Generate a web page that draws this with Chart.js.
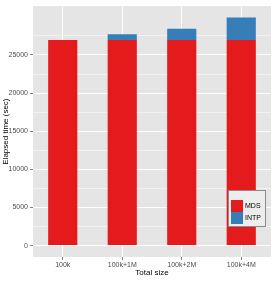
<!DOCTYPE html>
<html>
<head>
<meta charset="utf-8">
<script src="https://cdn.jsdelivr.net/npm/chart.js@4"></script>
<style>html,body{margin:0;padding:0;background:#fff}</style>
</head>
<body>
<div style="width:274px;height:281px"><canvas id="chart"></canvas></div>
<script>
const sizes = ['100k', '100k+1M', '100k+2M', '100k+4M'];
const mds = [26950, 26950, 26950, 26950];
const intp = [0, 780, 1475, 2950];
const yMajor = [0, 5000, 10000, 15000, 20000, 25000];
const yMinor = [2500, 7500, 12500, 17500, 22500, 27500];

const red = '#E41A1C';
const blue = '#377EB8';
const font = 'Liberation Sans, Arial, sans-serif';

// grey ggplot panel behind the bars
const panelBg = {
  id: 'panelBg',
  beforeDraw(chart) {
    const {ctx, chartArea: a} = chart;
    ctx.save();
    ctx.fillStyle = '#E5E5E5';
    ctx.fillRect(a.left, a.top, a.right - a.left, a.bottom - a.top);
    ctx.restore();
  }
};

// legend box inside the panel, lower right
const insideLegend = {
  id: 'insideLegend',
  afterDraw(chart) {
    const ctx = chart.ctx;
    const x = 228, y = 190, w = 38, h = 37;
    ctx.save();
    ctx.fillStyle = '#EDEDED';
    ctx.strokeStyle = '#8C8C8C';
    ctx.lineWidth = 1;
    ctx.fillRect(x, y, w, h);
    ctx.strokeRect(x + 0.5, y + 0.5, w - 1, h - 1);
    chart.data.datasets.forEach((ds, i) => {
      const ky = y + 10 + i * 12;
      ctx.fillStyle = ds.backgroundColor;
      ctx.fillRect(x + 3, ky, 12, 12);
      ctx.fillStyle = '#000';
      ctx.font = '7px ' + font;
      ctx.textBaseline = 'middle';
      ctx.fillText(ds.label, x + 17, ky + 6.5);
    });
    ctx.restore();
  }
};

new Chart(document.getElementById('chart'), {
  type: 'bar',
  data: {
    labels: sizes,
    datasets: [
      {label: 'MDS', data: mds, backgroundColor: red, borderWidth: 0},
      {label: 'INTP', data: intp, backgroundColor: blue, borderWidth: 0}
    ]
  },
  options: {
    responsive: true,
    maintainAspectRatio: false,
    animation: false,
    layout: {padding: {left: 0, right: 3, top: 4, bottom: 0}},
    barPercentage: 0.49,
    categoryPercentage: 1,
    plugins: {legend: {display: false}, tooltip: {enabled: false}},
    scales: {
      x: {
        stacked: true,
        offset: true,
        border: {display: false},
        grid: {offset: false, color: '#fff', lineWidth: 1, tickLength: 3, tickColor: '#7F7F7F'},
        ticks: {color: '#4D4D4D', font: {family: font, size: 7}, padding: 1, maxRotation: 0},
        title: {display: true, text: 'Total size', color: '#000', font: {family: font, size: 8}, padding: {top: 0, bottom: 3}},
        afterFit(scale) { scale.height = 24; }
      },
      y: {
        stacked: true,
        min: -1495,
        max: 31395,
        border: {display: false},
        afterBuildTicks(scale) {
          scale.ticks = yMajor.concat(yMinor).sort((a, b) => a - b).map(v => ({value: v}));
        },
        grid: {
          lineWidth: 1,
          tickLength: 3,
          color: c => yMajor.includes(c.tick.value) ? '#fff' : '#F2F2F2',
          tickColor: c => yMajor.includes(c.tick.value) ? '#7F7F7F' : 'rgba(0,0,0,0)'
        },
        ticks: {
          color: '#4D4D4D',
          font: {family: font, size: 7},
          padding: 2,
          callback: v => yMajor.includes(v) ? String(v) : ''
        },
        title: {display: true, text: 'Elapsed time (sec)', color: '#000', font: {family: font, size: 8}, padding: {top: 1, bottom: 0}},
        afterFit(scale) { scale.width = 33; }
      }
    }
  },
  plugins: [panelBg, insideLegend]
});
</script>
</body>
</html>
